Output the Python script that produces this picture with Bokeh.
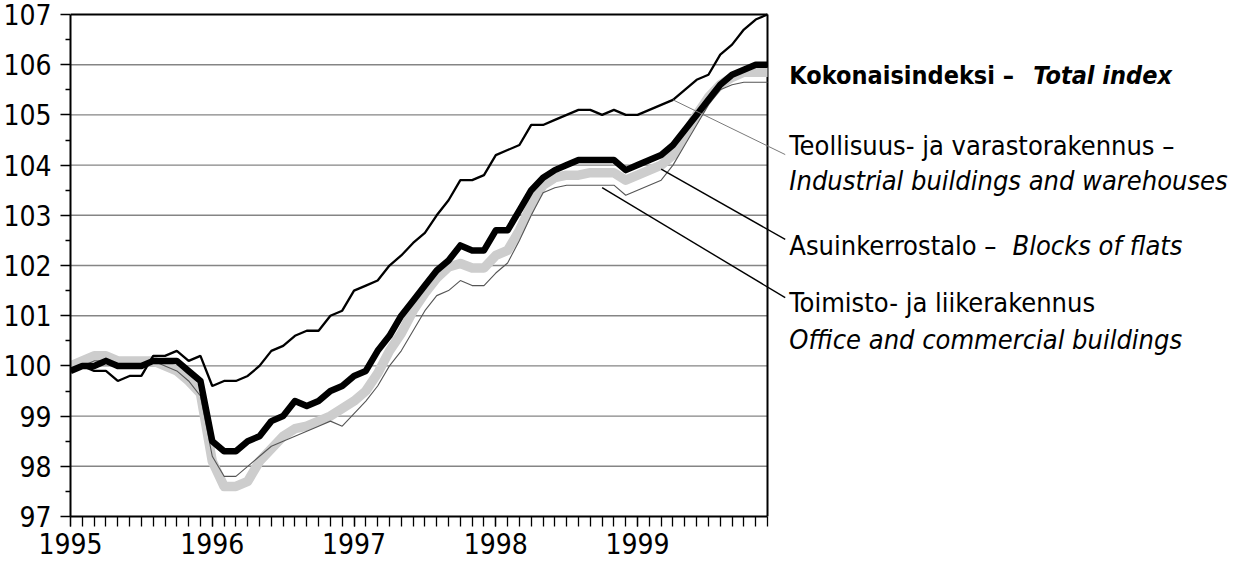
from bokeh.plotting import figure
from bokeh.models import Range1d, FixedTicker, Label
from bokeh.embed import file_html
from bokeh.resources import INLINE

FONT = "DejaVu Sans Condensed"

# ---- data (monthly, Jan 1995 .. Dec 1999) ----
months = list(range(60))
total = [99.9, 100.0, 100.0, 100.1, 100.0, 100.0, 100.0, 100.1, 100.1, 100.1, 99.9, 99.7,
         98.5, 98.3, 98.3, 98.5, 98.6, 98.9, 99.0, 99.3, 99.2, 99.3, 99.5, 99.6,
         99.8, 99.9, 100.3, 100.6, 101.0, 101.3, 101.6, 101.9, 102.1, 102.4, 102.3, 102.3,
         102.7, 102.7, 103.1, 103.5, 103.75, 103.9, 104.0, 104.1, 104.1, 104.1, 104.1, 103.9,
         104.0, 104.1, 104.2, 104.4, 104.7, 105.0, 105.3, 105.6, 105.8, 105.9, 106.0, 106.0]
industrial = [99.9, 100.0, 99.9, 99.9, 99.7, 99.8, 99.8, 100.2, 100.2, 100.3, 100.1, 100.2,
              99.6, 99.7, 99.7, 99.8, 100.0, 100.3, 100.4, 100.6, 100.7, 100.7, 101.0, 101.1,
              101.5, 101.6, 101.7, 102.0, 102.2, 102.45, 102.65, 103.0, 103.3, 103.7, 103.7, 103.8,
              104.2, 104.3, 104.4, 104.8, 104.8, 104.9, 105.0, 105.1, 105.1, 105.0, 105.1, 105.0,
              105.0, 105.1, 105.2, 105.3, 105.5, 105.7, 105.8, 106.2, 106.4, 106.7, 106.9, 107.0]
blocks = [100.0, 100.1, 100.2, 100.2, 100.1, 100.1, 100.1, 100.1, 100.0, 99.9, 99.7, 99.45,
          98.1, 97.6, 97.6, 97.7, 98.1, 98.35, 98.6, 98.75, 98.8, 98.9, 99.0, 99.15,
          99.3, 99.5, 99.85, 100.3, 100.65, 101.1, 101.45, 101.75, 101.97, 102.04, 101.95, 101.95,
          102.2, 102.3, 102.7, 103.2, 103.6, 103.75, 103.8, 103.8, 103.85, 103.85, 103.85, 103.7,
          103.8, 103.9, 104.0, 104.2, 104.6, 105.0, 105.35, 105.6, 105.75, 105.85, 105.85, 105.85]
office = [99.9, 100.0, 100.1, 100.1, 100.0, 100.0, 100.0, 100.1, 100.0, 99.9, 99.7, 99.4,
          98.2, 97.8, 97.8, 98.0, 98.2, 98.4, 98.5, 98.6, 98.7, 98.8, 98.9, 98.8,
          99.05, 99.3, 99.6, 100.0, 100.3, 100.7, 101.1, 101.4, 101.5, 101.7, 101.6, 101.6,
          101.85, 102.05, 102.5, 103.0, 103.45, 103.55, 103.6, 103.6, 103.6, 103.6, 103.6, 103.4,
          103.5, 103.6, 103.7, 104.0, 104.4, 104.8, 105.2, 105.5, 105.6, 105.65, 105.65, 105.65]

year_ticks = [0, 12, 24, 36, 48]
year_labels = ["1995", "1996", "1997", "1998", "1999"]
y_ticks = list(range(97, 108))
y_minor = [v + 0.5 for v in range(97, 107)]

X_END = 98.7
p = figure(frame_width=1166, frame_height=505,
           x_range=Range1d(0, X_END), y_range=Range1d(97, 107.06),
           output_backend="svg", toolbar_location=None,
           min_border_left=62, min_border_right=0, min_border_top=11, min_border_bottom=44)
p.xgrid.visible = False
p.ygrid.visible = False
p.outline_line_color = None
p.background_fill_color = "white"
p.border_fill_color = "white"

last = months[-1]
# horizontal grid lines
grid_vals = y_ticks[1:-1]
p.segment(x0=[months[0]] * len(grid_vals), x1=[last] * len(grid_vals), y0=grid_vals, y1=grid_vals,
          line_color="#858585", line_width=1.4)
# frame: top and right
p.segment(x0=[months[0], last], x1=[last, last], y0=[y_ticks[-1], y_ticks[0]], y1=[y_ticks[-1], y_ticks[-1]],
          line_color="black", line_width=2)

# series
p.line(months, blocks, line_color="#cdcdcd", line_width=9.5, line_join="round")
p.line(months, office, line_color="#555555", line_width=1.1)
p.line(months, total, line_color="black", line_width=6.5, line_join="round")
p.line(months, industrial, line_color="black", line_width=2.3)

# leader lines
lx = 60.5
p.segment(x0=[51], y0=[industrial[51]], x1=[lx], y1=[104.21], line_color="#7a7a7a", line_width=1)
p.segment(x0=[50], y0=[blocks[50] - 0.08], x1=[lx], y1=[102.52], line_color="black", line_width=1.4)
p.segment(x0=[45], y0=[office[45] - 0.05], x1=[lx], y1=[101.36], line_color="black", line_width=1.4)

# axes
for ax in (p.xaxis[0], p.yaxis[0]):
    ax.axis_line_color = "black"
    ax.axis_line_width = 2
    ax.major_tick_line_color = "black"
    ax.minor_tick_line_color = "black"
    ax.major_tick_line_width = 1.3
    ax.minor_tick_line_width = 1.3
    ax.major_tick_in = 0
    ax.minor_tick_in = 0
    ax.major_label_text_font = FONT
    ax.major_label_text_font_size = "28px"
    ax.major_label_text_color = "black"

xa = p.xaxis[0]
xa.ticker = FixedTicker(ticks=year_ticks, minor_ticks=months)
xa.major_label_overrides = {t: l for t, l in zip(year_ticks, year_labels)}
xa.bounds = (months[0], last)
xa.major_tick_out = 10
xa.minor_tick_out = 10
xa.major_label_standoff = 6

ya = p.yaxis[0]
ya.ticker = FixedTicker(ticks=y_ticks, minor_ticks=y_minor)
ya.bounds = (y_ticks[0], y_ticks[-1])
ya.major_tick_out = 10
ya.minor_tick_out = 5
ya.major_label_standoff = 9

# labels
LX = 60.85
def lab(x, y, text, style="normal", size="27px"):
    p.add_layout(Label(x=x, y=y, text=text, text_font=FONT, text_font_size=size,
                       text_font_style=style, text_color="black", text_baseline="alphabetic",
                       text_align="left"))

lab(LX, 105.785, "Kokonaisindeksi –", "bold", "25px")
lab(81.5, 105.785, "Total index", "bold italic", "25px")
lab(LX, 104.39, "Teollisuus- ja varastorakennus –")
lab(LX, 103.69, "Industrial buildings and warehouses", "italic")
lab(LX, 102.40, "Asuinkerrostalo –")
lab(79.74, 102.40, "Blocks of flats", "italic")
lab(LX, 101.26, "Toimisto- ja liikerakennus")
lab(LX, 100.53, "Office and commercial buildings", "italic")

open("out.html", "w").write(file_html(p, INLINE))
